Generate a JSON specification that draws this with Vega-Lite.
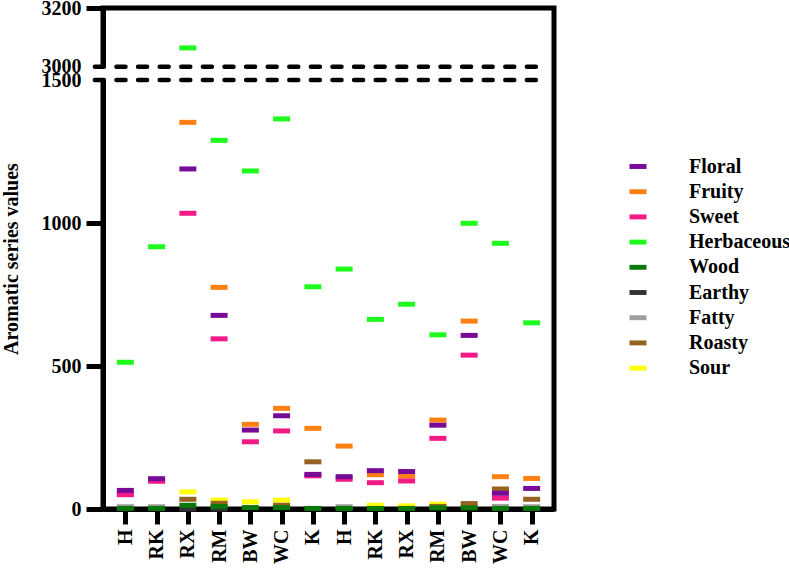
{
  "$schema": "https://vega.github.io/schema/vega-lite/v6.json",
  "width": 451,
  "height": 501,
  "autosize": "none",
  "padding": {"left": 103, "top": 8, "right": 235, "bottom": 59},
  "config": {
    "font": "Liberation Serif",
    "view": {"stroke": "black", "strokeWidth": 5},
    "axis": {
      "domainColor": "black", "domainWidth": 5,
      "tickColor": "black", "tickWidth": 5,
      "labelColor": "black", "labelFont": "Liberation Serif", "labelFontWeight": "bold",
      "titleColor": "black", "titleFont": "Liberation Serif", "titleFontWeight": "bold",
      "grid": false
    },
    "legend": {
      "labelFont": "Liberation Serif", "labelFontWeight": "bold", "labelColor": "black"
    }
  },
  "resolve": {"scale": {"x": "independent"}},
  "layer": [
    {
      "data": {"values": [
        {"s":"RX1","c":"Sour","v":60},{"s":"RM1","c":"Sour","v":31},{"s":"BW1","c":"Sour","v":25},{"s":"WC1","c":"Sour","v":31},
        {"s":"RK2","c":"Sour","v":13},{"s":"RX2","c":"Sour","v":11},{"s":"RM2","c":"Sour","v":17},
        {"s":"RX1","c":"Roasty","v":34},{"s":"RM1","c":"Roasty","v":20},{"s":"WC1","c":"Roasty","v":13},{"s":"K1","c":"Roasty","v":165},
        {"s":"RM2","c":"Roasty","v":9},{"s":"BW2","c":"Roasty","v":19},{"s":"WC2","c":"Roasty","v":70},{"s":"K2","c":"Roasty","v":34},
        {"s":"H1","c":"Fatty","v":8},{"s":"RK1","c":"Fatty","v":8},{"s":"H2","c":"Fatty","v":8},{"s":"WC2","c":"Fatty","v":9},{"s":"K2","c":"Fatty","v":8},
        {"s":"RX1","c":"Earthy","v":0},{"s":"RM1","c":"Earthy","v":0},
        {"s":"H1","c":"Wood","v":2},{"s":"RK1","c":"Wood","v":2},{"s":"RX1","c":"Wood","v":13},{"s":"RM1","c":"Wood","v":9},
        {"s":"BW1","c":"Wood","v":5},{"s":"WC1","c":"Wood","v":5},{"s":"K1","c":"Wood","v":2},{"s":"H2","c":"Wood","v":2},
        {"s":"RK2","c":"Wood","v":2},{"s":"RX2","c":"Wood","v":2},{"s":"RM2","c":"Wood","v":4},{"s":"BW2","c":"Wood","v":4},
        {"s":"WC2","c":"Wood","v":2},{"s":"K2","c":"Wood","v":2},
        {"s":"H1","c":"Herbaceous","v":513},{"s":"RK1","c":"Herbaceous","v":917},{"s":"RX1","c":"Herbaceous","v":3064},
        {"s":"RM1","c":"Herbaceous","v":1289},{"s":"BW1","c":"Herbaceous","v":1182},{"s":"WC1","c":"Herbaceous","v":1364},
        {"s":"K1","c":"Herbaceous","v":777},{"s":"H2","c":"Herbaceous","v":839},{"s":"RK2","c":"Herbaceous","v":663},
        {"s":"RX2","c":"Herbaceous","v":716},{"s":"RM2","c":"Herbaceous","v":609},{"s":"BW2","c":"Herbaceous","v":999},
        {"s":"WC2","c":"Herbaceous","v":929},{"s":"K2","c":"Herbaceous","v":651},
        {"s":"H1","c":"Fruity","v":56},{"s":"RK1","c":"Fruity","v":100},{"s":"RX1","c":"Fruity","v":1352},{"s":"RM1","c":"Fruity","v":775},
        {"s":"BW1","c":"Fruity","v":296},{"s":"WC1","c":"Fruity","v":352},{"s":"K1","c":"Fruity","v":282},{"s":"H2","c":"Fruity","v":220},
        {"s":"RK2","c":"Fruity","v":120},{"s":"RX2","c":"Fruity","v":115},{"s":"RM2","c":"Fruity","v":311},{"s":"BW2","c":"Fruity","v":657},
        {"s":"WC2","c":"Fruity","v":113},{"s":"K2","c":"Fruity","v":107},
        {"s":"H1","c":"Sweet","v":50},{"s":"RK1","c":"Sweet","v":97},{"s":"RX1","c":"Sweet","v":1034},{"s":"RM1","c":"Sweet","v":595},
        {"s":"BW1","c":"Sweet","v":235},{"s":"WC1","c":"Sweet","v":273},{"s":"K1","c":"Sweet","v":116},{"s":"H2","c":"Sweet","v":104},
        {"s":"RK2","c":"Sweet","v":92},{"s":"RX2","c":"Sweet","v":98},{"s":"RM2","c":"Sweet","v":247},{"s":"BW2","c":"Sweet","v":538},
        {"s":"WC2","c":"Sweet","v":38},
        {"s":"H1","c":"Floral","v":65},{"s":"RK1","c":"Floral","v":106},{"s":"RX1","c":"Floral","v":1189},{"s":"RM1","c":"Floral","v":677},
        {"s":"BW1","c":"Floral","v":276},{"s":"WC1","c":"Floral","v":326},{"s":"K1","c":"Floral","v":121},{"s":"H2","c":"Floral","v":113},
        {"s":"RK2","c":"Floral","v":134},{"s":"RX2","c":"Floral","v":131},{"s":"RM2","c":"Floral","v":293},{"s":"BW2","c":"Floral","v":607},
        {"s":"WC2","c":"Floral","v":55},{"s":"K2","c":"Floral","v":72}
      ]},
      "mark": {"type": "tick", "thickness": 5, "size": 17, "opacity": 1},
      "encoding": {
        "x": {
          "field": "s", "type": "nominal",
          "sort": ["H1","RK1","RX1","RM1","BW1","WC1","K1","H2","RK2","RX2","RM2","BW2","WC2","K2"],
          "scale": {"type": "point", "padding": 0.715},
          "axis": {
            "title": null, "labelAngle": -90, "labelFontSize": 20, "labelPadding": 5, "tickSize": 15,
            "labelExpr": "substring(datum.label, 0, length(datum.label) - 1)"
          }
        },
        "y": {
          "field": "v", "type": "quantitative",
          "scale": {"domain": [0, 1500, 3000, 3200], "range": [501, 72, 58.7, 0], "nice": false, "zero": false},
          "axis": {
            "title": "Aromatic series values", "titleFontSize": 20, "titlePadding": 20,
            "values": [0, 500, 1000, 1500, 3000, 3200], "format": "d",
            "labelFontSize": 20, "labelPadding": 5, "tickSize": 17, "labelOverlap": false,
            "tickOpacity": {"condition": {"test": "datum.value == 1500 || datum.value == 3000", "value": 0}, "value": 1}
          }
        },
        "color": {
          "field": "c", "type": "nominal",
          "scale": {
            "domain": ["Floral","Fruity","Sweet","Herbaceous","Wood","Earthy","Fatty","Roasty","Sour"],
            "range": ["#780A98","#FF8012","#F21A86","#1EFA1E","#0B780B","#333333","#A0A0A0","#946322","#FFFF0A"]
          },
          "legend": {
            "title": null, "orient": "none", "legendX": 525, "legendY": 148.5,
            "symbolType": "M-1,-0.29H1V0.29H-1Z", "symbolSize": 289, "symbolStrokeWidth": 0,
            "labelFontSize": 20, "labelOffset": 41, "rowPadding": 5.2, "padding": 0
          }
        }
      }
    },
    {
      "data": {"values": [{"lo": 1500, "hi": 3000, "x": 0}]},
      "mark": {"type": "rule", "color": "white", "strokeWidth": 8},
      "encoding": {
        "x": {"field": "x", "type": "quantitative", "scale": {"domain": [0, 1]}, "axis": null},
        "y": {"field": "lo", "type": "quantitative"},
        "y2": {"field": "hi"}
      }
    },
    {
      "data": {"values": [{"b": 1500, "x0": -0.018, "x1": 0.982}, {"b": 3000, "x0": -0.018, "x1": 0.982}]},
      "mark": {"type": "rule", "color": "black", "strokeWidth": 4.5, "strokeDash": [9, 12.6], "strokeCap": "round"},
      "encoding": {
        "x": {"field": "x0", "type": "quantitative", "scale": {"domain": [0, 1]}, "axis": null},
        "x2": {"field": "x1"},
        "y": {"field": "b", "type": "quantitative"}
      }
    }
  ]
}
